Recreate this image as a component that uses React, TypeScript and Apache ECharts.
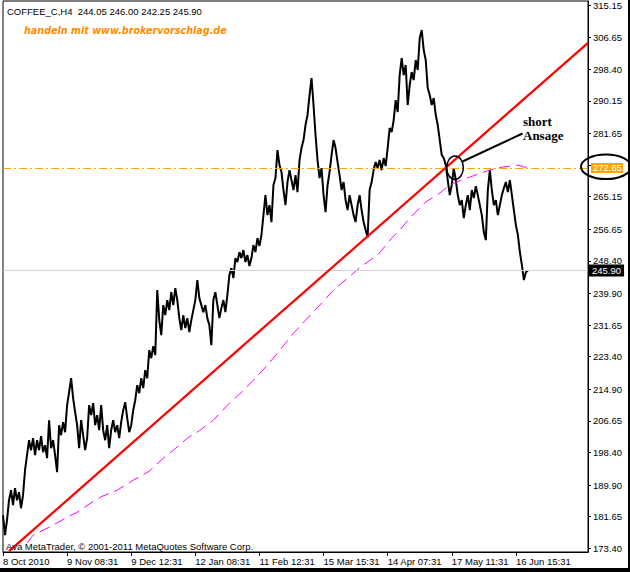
import React, { useEffect, useRef } from "react";
import * as echarts from "echarts";

// ---- data ----
const symbolTitle = "COFFEE_C,H4";
const lastBarOHLC = [244.05, 246.0, 242.25, 245.9];
const tickLabels = [
  "8 Oct 2010",
  "9 Nov 08:31",
  "9 Dec 12:31",
  "12 Jan 08:31",
  "11 Feb 12:31",
  "15 Mar 15:31",
  "14 Apr 07:31",
  "17 May 11:31",
  "16 Jun 15:31",
];
const barsPerTick = 32;
const barCount = 293;
const barNames = Array.from({ length: barCount }, (_, i) => "bar " + i);

const priceValues = [
  182.02, 176.81, 180.72, 185.94, 188.55, 184.64, 189.07, 185.94, 188.03, 183.85,
  187.25, 193.78, 197.69, 201.6, 198.99, 202.12, 197.69, 201.6, 198.99, 202.64,
  198.47, 200.3, 196.9, 206.82, 199.51, 201.6, 197.69, 193.25, 205.52, 202.91,
  206.3, 203.69, 210.74, 214.13, 217.79, 212.56, 208.91, 205.52, 199.51, 206.82,
  202.91, 198.99, 202.12, 210.74, 208.13, 211.26, 205.52, 208.13, 204.21, 210.74,
  204.21, 201.6, 205.52, 199.51, 204.21, 206.82, 203.69, 205.52, 202.12, 206.3,
  209.43, 211.52, 207.34, 203.69, 205.52, 209.43, 212.04, 215.96, 213.87, 217.79,
  215.18, 219.87, 217.79, 225.09, 223.01, 226.14, 223.79, 240.76, 232.92, 229.01,
  236.84, 234.23, 238.15, 235.54, 240.23, 236.84, 241.28, 238.15, 233.45, 230.31,
  234.23, 230.84, 233.45, 229.79, 232.92, 235.54, 238.15, 243.37, 238.67, 236.84,
  235.01, 236.84, 233.45, 231.62, 226.4, 238.15, 240.23, 236.84, 233.45, 236.06,
  238.15, 235.01, 239.45, 244.67, 246.5, 243.89, 249.11, 248.07, 250.68, 249.11,
  251.2, 248.07, 249.89, 247.02, 249.11, 252.5, 250.68, 254.33, 252.24, 255.11,
  260.33, 265.55, 260.33, 262.94, 258.51, 268.17, 269.99, 277.3, 273.39, 271.56,
  266.86, 262.94, 268.95, 272.08, 269.47, 266.86, 270.77, 266.34, 274.69, 277.82,
  279.91, 283.83, 286.44, 291.66, 296.09, 289.05, 281.22, 274.69, 269.99, 272.6,
  265.55, 261.12, 268.17, 271.56, 276.0, 279.91, 277.82, 274.17, 270.77, 266.86,
  268.95, 264.25, 261.64, 265.55, 262.94, 260.33, 258.51, 262.94, 265.55, 261.64,
  258.51, 256.42, 254.59, 266.86, 268.95, 272.08, 274.17, 272.6, 274.69, 272.08,
  275.21, 273.13, 277.82, 283.04, 282.0, 285.13, 290.35, 287.22, 296.88, 301.32,
  296.88, 299.49, 289.05, 294.27, 297.66, 295.57, 300.79, 298.18, 306.54, 308.62,
  303.4, 300.79, 293.48, 291.66, 289.05, 290.87, 286.44, 283.83, 279.91, 276.0,
  275.21, 273.39, 269.47, 265.55, 268.17, 272.6, 269.47, 265.55, 262.94, 264.25,
  259.55, 262.94, 265.55, 261.64, 266.86, 264.77, 267.9, 265.55, 262.94, 260.33,
  255.9, 253.81, 266.86, 272.08, 266.86, 262.94, 264.25, 260.33, 262.94, 265.55,
  267.38, 268.95, 266.34, 269.47, 265.55, 261.64, 257.72, 255.11, 250.68, 247.28,
  243.37, 245.45, 245.9,
];

// moving average: [bar index, value]
const movingAverage = [
  [12, 174.85], [15, 176.81], [24, 179.15], [32, 181.5], [37, 182.8], [44, 185.28],
  [49, 186.85], [57, 188.55], [65, 191.16], [73, 193.51], [80, 196.9], [85, 198.99],
  [92, 202.12], [98, 204.08], [105, 206.82], [112, 210.74], [118, 213.61], [125, 217.26],
  [132, 221.18], [139, 225.62], [145, 229.53], [152, 233.45], [159, 237.36], [165, 240.76],
  [172, 243.89], [179, 247.02], [187, 249.89], [194, 254.33], [198, 256.42], [203, 259.55],
  [211, 263.73], [218, 266.08], [221, 267.38], [225, 268.69], [233, 270.25], [240, 271.56],
  [246, 272.6], [253, 273.13], [257, 273.39], [260, 272.86], [262, 272.86],
];

// trend line: [bar index, value]
const trendLine = [
  [3, 172.64],
  [292, 305.28],
];

const resistanceLevel = 272.65;
const lastPrice = 245.9;
const yTickValues = [
  315.15, 306.65, 298.4, 290.15, 281.65, 273.4, 265.15, 256.65, 248.4, 239.9,
  231.65, 223.4, 214.9, 206.65, 198.4, 189.9, 181.65, 173.4,
];
// the 273.40 label sits under the resistance price box
const yLabelValues = yTickValues.filter((v) => v !== 273.4);
const yMin = 172.43;
const yMax = 316.19;

const FONT = '"Liberation Sans", Arial, sans-serif';

export default function App() {
  const ref = useRef<HTMLDivElement>(null);
  useEffect(() => {
    if (!ref.current) return;
    const chart = echarts.init(ref.current, undefined, { renderer: "svg" });
    const isTick = (i: number) => i % barsPerTick === 0 && i / barsPerTick < tickLabels.length;
    chart.setOption({
      animation: false,
      backgroundColor: "#ffffff",
      grid: {
        left: 3,
        right: 42,
        top: 1,
        bottom: 20,
        show: true,
        borderColor: "#000",
        borderWidth: 1,
        backgroundColor: "#fff",
      },
      xAxis: {
        type: "category",
        data: barNames,
        boundaryGap: false,
        axisLine: { show: true, lineStyle: { color: "#000", width: 1 } },
        axisTick: {
          show: true,
          length: 4,
          interval: (i: number) => isTick(i),
          lineStyle: { color: "#000" },
        },
        axisLabel: {
          show: true,
          interval: (i: number) => isTick(i),
          formatter: (_v: string, i: number) => tickLabels[i / barsPerTick] || "",
          align: "left",
          margin: 4,
          color: "#000",
          fontFamily: FONT,
          fontSize: 9.5,
          showMinLabel: true,
        },
        splitLine: { show: false },
      },
      yAxis: {
        type: "value",
        position: "right",
        min: yMin,
        max: yMax,
        axisLine: { show: true, lineStyle: { color: "#000", width: 1 } },
        axisTick: {
          show: true,
          length: 3,
          customValues: yTickValues,
          lineStyle: { color: "#000" },
        },
        axisLabel: {
          show: true,
          customValues: yLabelValues,
          formatter: (v: number) => v.toFixed(2),
          margin: 5,
          color: "#000",
          fontFamily: FONT,
          fontSize: 9.5,
        },
        splitLine: { show: false },
      },
      series: [
        {
          type: "line",
          name: "price",
          data: priceValues,
          symbol: "none",
          lineStyle: { color: "#000", width: 2 },
          z: 3,
          markLine: {
            symbol: ["none", "none"],
            silent: true,
            animation: false,
            data: [
              {
                yAxis: lastPrice,
                lineStyle: { color: "#d0d0d8", width: 1, type: "solid" },
                label: {
                  show: true,
                  position: "end",
                  distance: 1,
                  formatter: () => lastPrice.toFixed(2),
                  color: "#fff",
                  backgroundColor: "#000",
                  padding: [1, 3, 1, 3],
                  fontFamily: FONT,
                  fontSize: 9.5,
                },
              },
              {
                yAxis: resistanceLevel,
                lineStyle: { color: "#ffa500", width: 1, type: [8, 3, 2, 3] },
                label: {
                  show: true,
                  position: "end",
                  distance: 3,
                  formatter: () => resistanceLevel.toFixed(2),
                  color: "#fff",
                  backgroundColor: "#ffa500",
                  padding: [0, 1, 0, 2],
                  fontFamily: FONT,
                  fontSize: 9.5,
                },
              },
            ],
          },
        },
        {
          type: "line",
          name: "MA",
          data: movingAverage,
          symbol: "none",
          lineStyle: { color: "#ff00ff", width: 1, type: [11, 6] },
          z: 4,
        },
        {
          type: "line",
          name: "trend",
          data: trendLine,
          symbol: "none",
          lineStyle: { color: "#ff0000", width: 2.2 },
          z: 5,
        },
      ],
      graphic: [
        {
          type: "text",
          x: 7,
          y: 11,
          z: 50,
          style: {
            text: symbolTitle + "  " + lastBarOHLC.map((v) => v.toFixed(2)).join(" "),
            fill: "#000",
            font: "9.5px " + FONT,
            textAlign: "left",
            textVerticalAlign: "middle",
          },
        },
        {
          type: "text",
          x: 24,
          y: 30.5,
          z: 50,
          style: {
            text: "handeln mit www.brokervorschlag.de",
            fill: "#ff8c00",
            font: 'italic bold 9.6px "DejaVu Sans", sans-serif',
            textAlign: "left",
            textVerticalAlign: "middle",
          },
        },
        {
          type: "text",
          x: 6,
          y: 546,
          z: 50,
          style: {
            text: "Ava MetaTrader, \u00a9 2001-2011 MetaQuotes Software Corp.",
            fill: "#000",
            font: "9.5px " + FONT,
            textAlign: "left",
            textVerticalAlign: "middle",
          },
        },
        {
          type: "text",
          x: 523,
          y: 121,
          z: 50,
          style: {
            text: "short",
            fill: "#000",
            font: 'bold 13px "Liberation Serif", serif',
            textAlign: "left",
            textVerticalAlign: "middle",
          },
        },
        {
          type: "text",
          x: 523,
          y: 135.5,
          z: 50,
          style: {
            text: "Ansage",
            fill: "#000",
            font: 'bold 13px "Liberation Serif", serif',
            textAlign: "left",
            textVerticalAlign: "middle",
          },
        },
        {
          type: "line",
          z: 60,
          shape: { x1: 462.5, y1: 161.5, x2: 522.5, y2: 133.5 },
          style: { stroke: "#000", lineWidth: 2 },
        },
        {
          type: "ellipse",
          z: 60,
          shape: { cx: 455, cy: 167.7, rx: 8.3, ry: 11.7 },
          style: { fill: null, stroke: "#000", lineWidth: 1.5 },
        },
        {
          type: "ellipse",
          z: 60,
          shape: { cx: 606, cy: 166.8, rx: 25, ry: 12.3 },
          style: { fill: null, stroke: "#000", lineWidth: 2 },
        },
        {
          type: "rect",
          z: 70,
          shape: { x: 628, y: 0, width: 2, height: 572 },
          style: { fill: "#000" },
        },
        {
          type: "rect",
          z: 70,
          shape: { x: 0, y: 568, width: 630, height: 4 },
          style: { fill: "#000" },
        },
      ],
    });
    return () => chart.dispose();
  }, []);
  return (
    <div
      ref={ref}
      style={{ position: "absolute", left: 0, top: 0, width: 630, height: 572 }}
    />
  );
}
